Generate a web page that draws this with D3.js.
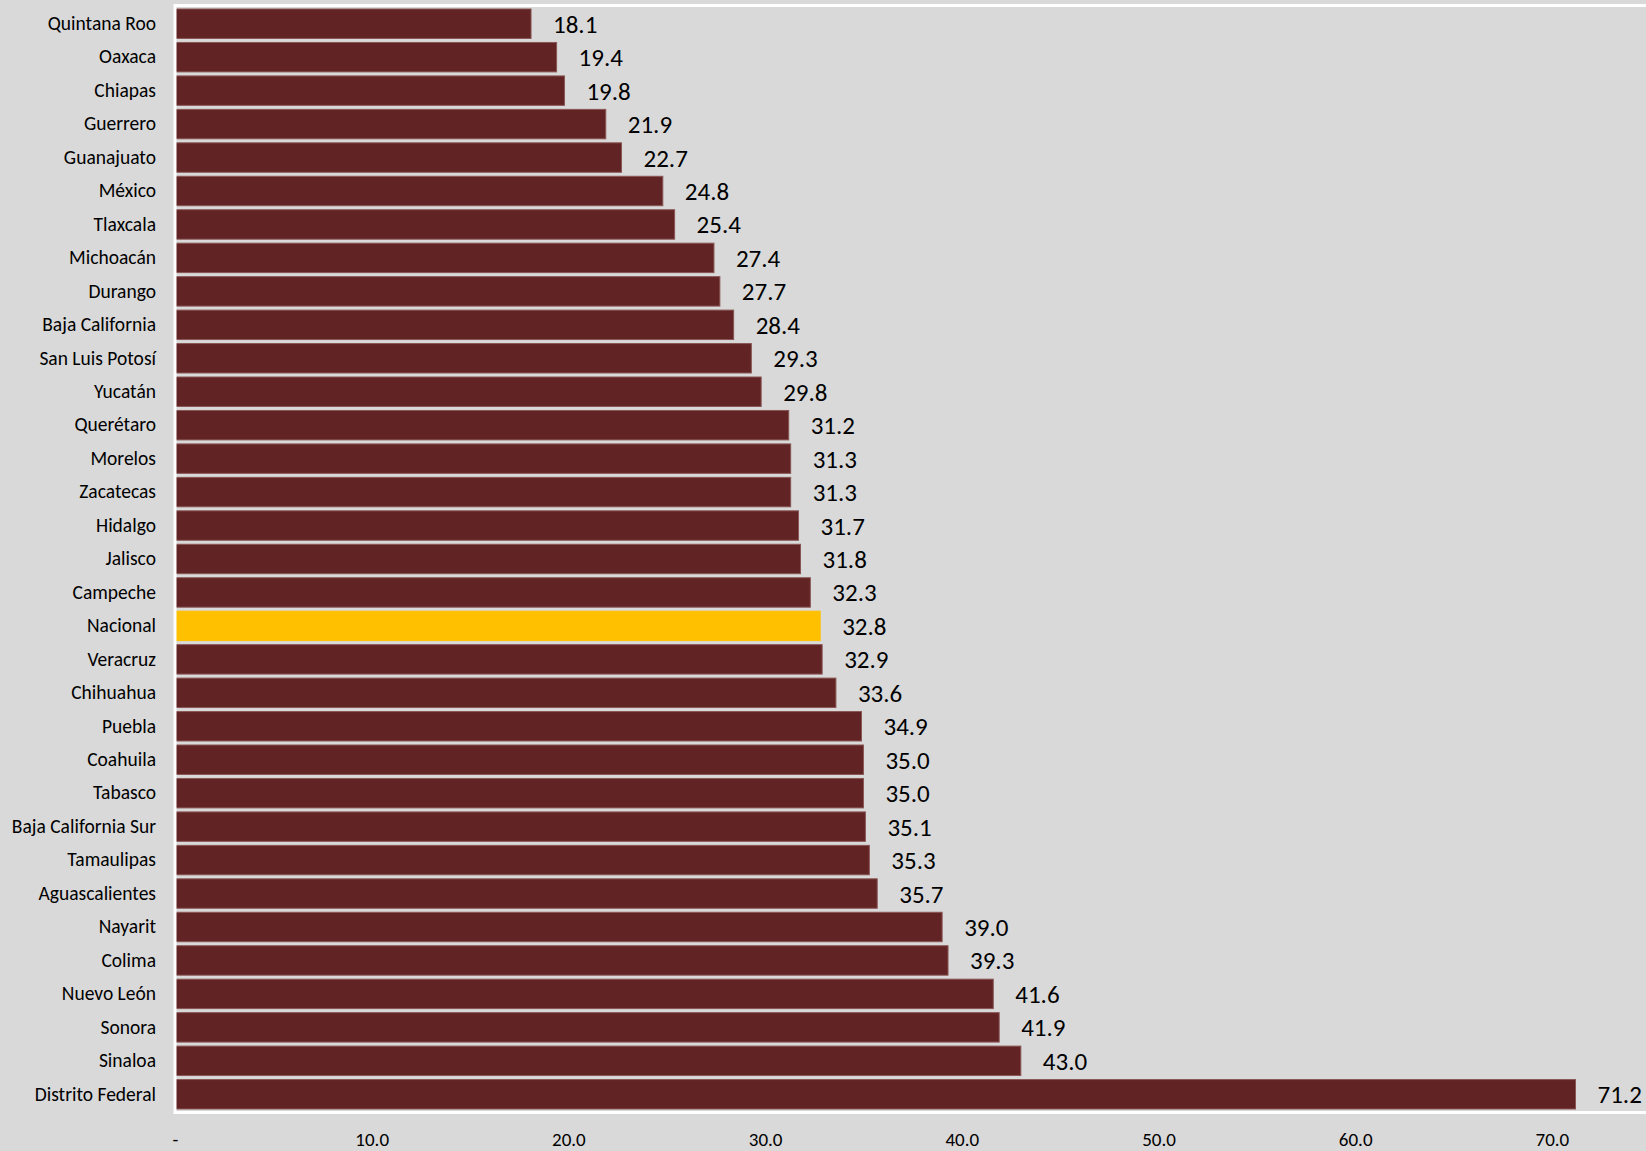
<!DOCTYPE html>
<html>
<head>
<meta charset="utf-8">
<script src="https://cdn.jsdelivr.net/npm/d3@7"></script>
<style>
  html, body { margin: 0; padding: 0; background: #d9d9d9; overflow: hidden; }
  svg { display: block; }
</style>
</head>
<body>
<div id="app"></div>
<script>
const states = ['Quintana Roo', 'Oaxaca', 'Chiapas', 'Guerrero', 'Guanajuato', 'México', 'Tlaxcala',
  'Michoacán', 'Durango', 'Baja California', 'San Luis Potosí', 'Yucatán', 'Querétaro', 'Morelos',
  'Zacatecas', 'Hidalgo', 'Jalisco', 'Campeche', 'Nacional', 'Veracruz', 'Chihuahua', 'Puebla',
  'Coahuila', 'Tabasco', 'Baja California Sur', 'Tamaulipas', 'Aguascalientes', 'Nayarit', 'Colima',
  'Nuevo León', 'Sonora', 'Sinaloa', 'Distrito Federal'];
const values = [18.1, 19.4, 19.8, 21.9, 22.7, 24.8, 25.4, 27.4, 27.7, 28.4, 29.3, 29.8, 31.2, 31.3,
  31.3, 31.7, 31.8, 32.3, 32.8, 32.9, 33.6, 34.9, 35.0, 35.0, 35.1, 35.3, 35.7, 39.0, 39.3, 41.6,
  41.9, 43.0, 71.2];
const tickValues = [0, 10, 20, 30, 40, 50, 60, 70];
const highlight = 'Nacional';

(() => {
  const width = 1646;
  const height = 1151;
  const plotLeft = 175;
  const plotTop = 5.5;
  const plotBottom = 1112.5;
  const font = "Calibri, Carlito, Lato, sans-serif";
  const barColor = '#622324';
  const natColor = '#ffc000';

  const data = states.map((s, i) => ({ state: s, value: values[i] }));

  const svg = d3.select('#app')
    .append('svg')
    .attr('width', width)
    .attr('height', height);

  svg.append('rect')
    .attr('width', width)
    .attr('height', height)
    .style('fill', '#d9d9d9');

  // 10 units ~ 196.7px
  const x = d3.scaleLinear()
    .domain([0, 80])
    .range([plotLeft, plotLeft + 8 * 196.7]);

  const y = d3.scaleBand()
    .domain(states)
    .range([plotTop + 1.5, plotBottom - 1.5])
    .paddingInner(0.12)
    .paddingOuter(0.06);

  // bars
  svg.selectAll('rect.bar')
    .data(data)
    .enter()
    .append('rect')
    .attr('class', 'bar')
    .attr('x', x(0))
    .attr('y', d => y(d.state))
    .attr('width', d => x(d.value) - x(0))
    .attr('height', y.bandwidth())
    .style('fill', d => (d.state === highlight ? natColor : barColor))
    .style('stroke', d => (d.state === highlight ? natColor : '#8a5555'))
    .style('stroke-width', 1);

  // value labels
  svg.selectAll('text.val')
    .data(data)
    .enter()
    .append('text')
    .attr('class', 'val')
    .text(d => d.value.toFixed(1))
    .attr('x', d => x(d.value) + 22)
    .attr('y', d => y(d.state) + y.bandwidth() / 2 + 0.5)
    .attr('font-family', font)
    .attr('font-size', '25px')
    .style('fill', '#000')
    .style('dominant-baseline', 'central');

  // plot area border (white)
  svg.append('path')
    .attr('d', `M${width + 5},${plotTop}H${plotLeft}V${plotBottom}H${width + 5}`)
    .style('fill', 'none')
    .style('stroke', '#ffffff')
    .style('stroke-width', 3);

  // category axis
  const yAxis = d3.axisLeft(y).tickSize(0).tickPadding(19);
  svg.append('g')
    .attr('transform', `translate(${plotLeft},0)`)
    .call(yAxis)
    .call(g => g.select('.domain').remove())
    .selectAll('text')
    .attr('font-family', font)
    .attr('font-size', '19.5px')
    .style('fill', '#000');

  // value axis
  const xAxis = d3.axisBottom(x)
    .tickValues(tickValues)
    .tickSize(0)
    .tickPadding(0)
    .tickFormat(d => (d === 0 ? '-' : d.toFixed(1)));
  svg.append('g')
    .attr('transform', `translate(0,${plotBottom + 20})`)
    .call(xAxis)
    .call(g => g.select('.domain').remove())
    .selectAll('text')
    .attr('font-family', font)
    .attr('font-size', '19px')
    .style('fill', '#000');
})();
</script>
</body>
</html>
